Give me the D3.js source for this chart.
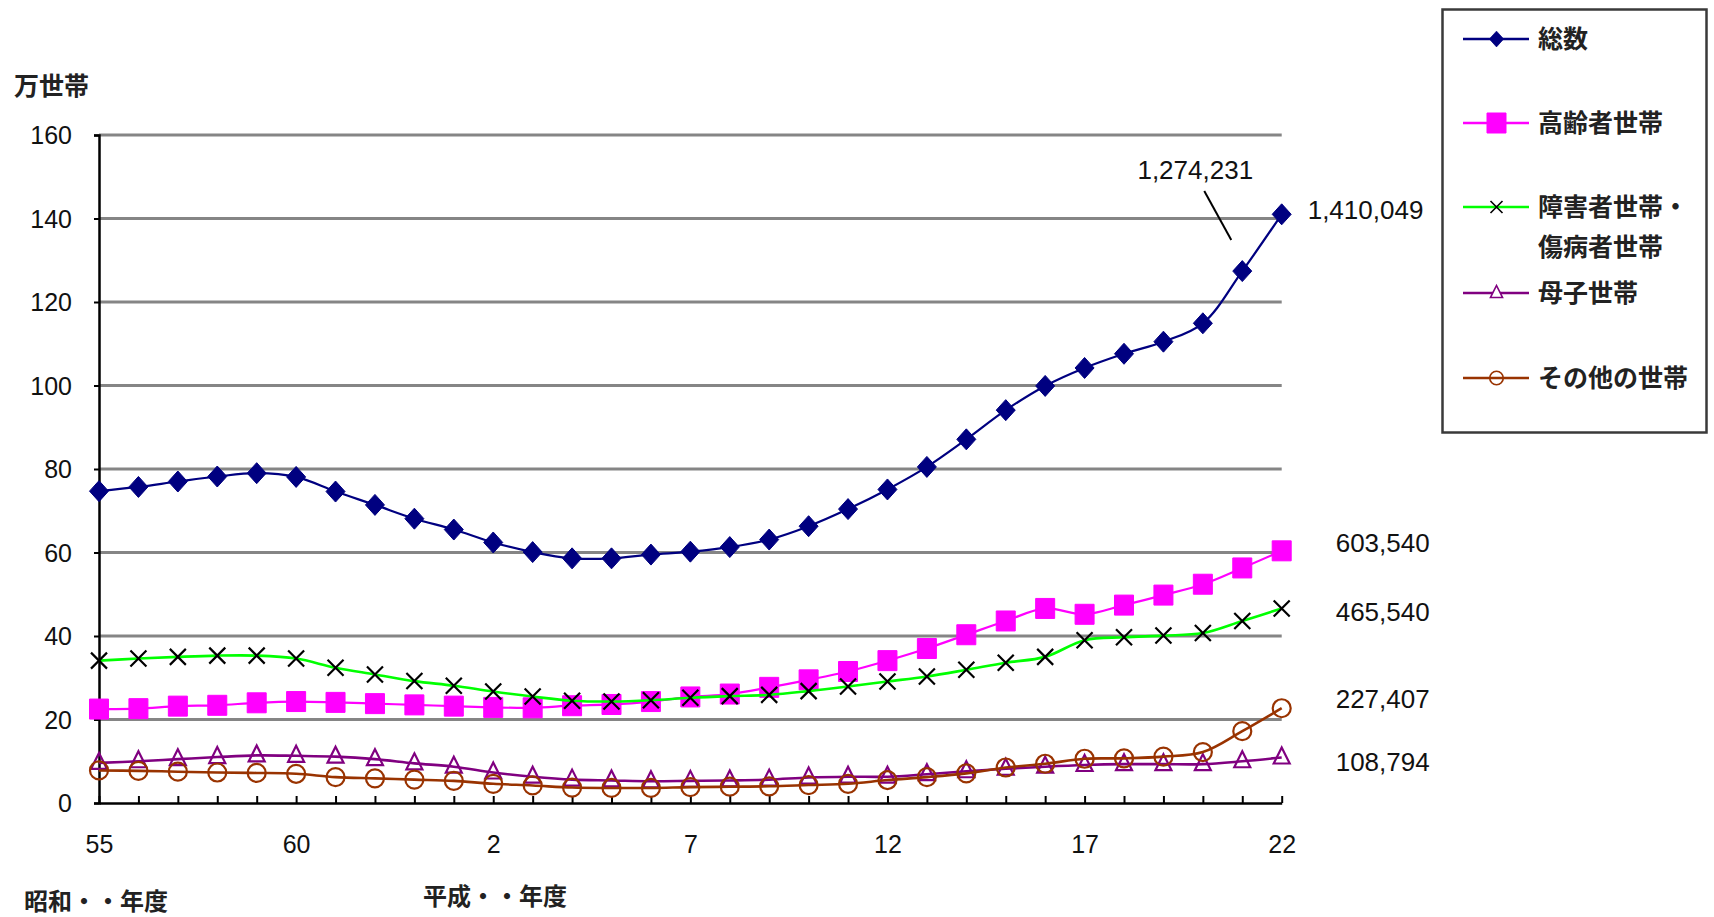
<!DOCTYPE html>
<html>
<head>
<meta charset="utf-8">
<script src="https://cdn.jsdelivr.net/npm/d3@7"></script>
<style>
  html, body { margin: 0; padding: 0; background: #fff; }
  svg { display: block; }
  .num { font-family: "Liberation Sans", Arial, sans-serif; fill: #111; }
  .jp { font-family: "Noto Sans CJK JP", "Noto Sans", sans-serif; font-weight: 700; fill: #222; }
</style>
</head>
<body>
<svg id="chart" width="1714" height="917"></svg>
<script>
// ---- data (万世帯) ----
const categories = ["S55","S56","S57","S58","S59","S60","S61","S62","S63",
  "H1","H2","H3","H4","H5","H6","H7","H8","H9","H10","H11","H12","H13","H14","H15","H16","H17","H18","H19","H20","H21","H22"];
const tickLabels = {"S55":"55","S60":"60","H2":"2","H7":"7","H12":"12","H17":"17","H22":"22"};
const yTicks = [0, 20, 40, 60, 80, 100, 120, 140, 160];

const total    = [74.7,75.7,77.0,78.2,79.0,78.1,74.6,71.4,68.1,65.5,62.4,60.1,58.6,58.6,59.5,60.2,61.3,63.1,66.3,70.4,75.1,80.5,87.1,94.1,99.9,104.2,107.6,110.5,114.9,127.4,141.0];
const elderly  = [22.5,22.6,23.2,23.4,24.0,24.3,24.1,23.8,23.5,23.2,22.9,22.8,23.3,23.6,24.3,25.4,26.1,27.7,29.5,31.5,34.1,37.0,40.3,43.6,46.6,45.2,47.4,49.8,52.4,56.3,60.4];
const disabled = [34.1,34.6,35.0,35.3,35.3,34.6,32.4,30.8,29.2,28.1,26.7,25.5,24.5,24.3,24.6,25.2,25.6,25.9,26.8,27.9,29.1,30.3,31.9,33.6,35.0,39.0,39.7,40.1,40.7,43.6,46.6];
const mother   = [9.6,10.0,10.5,11.0,11.4,11.3,11.1,10.5,9.5,8.7,7.3,6.3,5.6,5.4,5.2,5.3,5.4,5.6,6.1,6.3,6.3,6.9,7.6,8.2,8.7,9.1,9.3,9.3,9.3,10.0,10.9];
const other    = [7.8,7.7,7.5,7.3,7.2,7.0,6.2,5.9,5.6,5.3,4.6,4.2,3.7,3.6,3.6,3.8,3.9,4.0,4.3,4.6,5.5,6.2,7.1,8.5,9.4,10.6,10.7,11.1,12.2,17.2,22.7];

const seriesNames = ["総数","高齢者世帯","障害者世帯・\n傷病者世帯","母子世帯","その他の世帯"];
const endLabels = ["1,410,049","603,540","465,540","","227,407"];
const motherEndLabel = "108,794";
const h21Label = "1,274,231";

// ---- setup ----
const svg = d3.select("#chart");
svg.append("rect").attr("width",1714).attr("height",917).attr("fill","#fff");

const x = d3.scalePoint().domain(categories).range([99, 1281.7]);
const y = d3.scaleLinear().domain([0,160]).range([803,135]);

// gridlines
svg.append("g").selectAll("line").data(yTicks.filter(d => d > 0)).join("line")
  .attr("x1", 99).attr("x2", 1281.7)
  .attr("y1", d => y(d)).attr("y2", d => y(d))
  .attr("stroke", "#858585").attr("stroke-width", 3);

// y axis
const yAxis = svg.append("g").attr("transform","translate(99,0)")
  .call(d3.axisLeft(y).tickValues(yTicks).tickSize(5).tickPadding(22));
yAxis.select(".domain").attr("stroke","#000").attr("stroke-width",2.5);
yAxis.selectAll(".tick line").attr("stroke","#000").attr("stroke-width",2);
yAxis.selectAll(".tick text").attr("class","num").attr("font-size",25).attr("dy","0.34em");

// x axis (ticks pointing inward)
const xAxis = svg.append("g").attr("transform","translate(0,803)")
  .call(d3.axisBottom(x).tickSize(-7).tickSizeOuter(0).tickPadding(32)
    .tickFormat(d => tickLabels[d] || ""));
xAxis.select(".domain").attr("stroke","#000").attr("stroke-width",2.5);
xAxis.selectAll(".tick line").attr("stroke","#000").attr("stroke-width",2);
xAxis.selectAll(".tick text").attr("class","num").attr("font-size",25);

// axis titles
svg.append("text").attr("class","jp").attr("x",14).attr("y",95).attr("font-size",25).text("万世帯");
svg.append("text").attr("class","jp").attr("x",24).attr("y",910).attr("font-size",24).text("昭和・・年度");
svg.append("text").attr("class","jp").attr("x",423).attr("y",905).attr("font-size",24).text("平成・・年度");

// ---- series ----
const series = [
  {name: seriesNames[0], values: total,    line: "#000080", lw: 2.2, marker: "diamond", mfill: "#000080", mstroke: "#000080"},
  {name: seriesNames[1], values: elderly,  line: "#ff00ff", lw: 2.2, marker: "square",  mfill: "#ff00ff", mstroke: "#ff00ff"},
  {name: seriesNames[2], values: disabled, line: "#00ff00", lw: 2.6, marker: "x",       mfill: "none",    mstroke: "#000"},
  {name: seriesNames[3], values: mother,   line: "#800080", lw: 2.6, marker: "triangle",mfill: "#fff",    mstroke: "#800080"},
  {name: seriesNames[4], values: other,    line: "#993300", lw: 2.6, marker: "circle",  mfill: "none",    mstroke: "#993300"}
];

function markerPath(type) {
  switch (type) {
    case "diamond":  return "M0,-10.5L9.5,0L0,10.5L-9.5,0Z";
    case "square":   return "M-9.5,-10L9.5,-10L9.5,10L-9.5,10Z";
    case "x":        return "M-8,-8L8,8M-8,8L8,-8";
    case "triangle": return "M0,-10L8,6L-8,6Z";
    case "circle":   return "M-9,0A9,9 0 1,0 9,0A9,9 0 1,0 -9,0Z";
  }
}

const line = d3.line()
  .x((d,i) => x(categories[i]))
  .y(d => y(d))
  .curve(d3.curveCatmullRom.alpha(0.5));

series.forEach(s => {
  const g = svg.append("g");
  g.append("path").datum(s.values).attr("d", line)
    .attr("fill","none").attr("stroke", s.line).attr("stroke-width", s.lw);
  g.selectAll("path.m").data(s.values).join("path").attr("class","m")
    .attr("transform", (d,i) => `translate(${x(categories[i])},${y(d)})`)
    .attr("d", markerPath(s.marker))
    .attr("fill", s.mfill === "#fff" ? "none" : s.mfill)
    .attr("stroke", s.mstroke)
    .attr("stroke-width", s.marker === "diamond" || s.marker === "square" ? 1 : 2.2);
});

// ---- end labels ----
const last = categories[categories.length - 1];
const lastX = x(last);
svg.append("text").attr("class","num").attr("font-size",26)
  .attr("x", lastX + 26).attr("y", y(total[30]) - 4).attr("dy","0.35em").text(endLabels[0]);
svg.append("text").attr("class","num").attr("font-size",26)
  .attr("x", lastX + 54).attr("y", y(elderly[30]) - 8).attr("dy","0.35em").text(endLabels[1]);
svg.append("text").attr("class","num").attr("font-size",26)
  .attr("x", lastX + 54).attr("y", y(disabled[30]) + 3).attr("dy","0.35em").text(endLabels[2]);
svg.append("text").attr("class","num").attr("font-size",26)
  .attr("x", lastX + 54).attr("y", y(other[30]) - 9).attr("dy","0.35em").text(endLabels[4]);
svg.append("text").attr("class","num").attr("font-size",26)
  .attr("x", lastX + 54).attr("y", y(mother[30]) + 4).attr("dy","0.35em").text(motherEndLabel);

// H21 callout
const h21x = x("H21"), h21y = y(total[29]);
svg.append("line")
  .attr("x1", h21x - 38).attr("y1", h21y - 80)
  .attr("x2", h21x - 11).attr("y2", h21y - 31)
  .attr("stroke","#000").attr("stroke-width",2);
svg.append("text").attr("class","num").attr("font-size",26).attr("text-anchor","middle")
  .attr("x", h21x - 47).attr("y", h21y - 101).attr("dy","0.35em").text(h21Label);

// ---- legend ----
const lg = svg.append("g");
lg.append("rect").attr("x",1442.5).attr("y",9.5).attr("width",264).attr("height",423)
  .attr("fill","#fff").attr("stroke","#3a3a3a").attr("stroke-width",2.5);
const legendY = [39, 123, 207, 293, 378];
series.forEach((s, i) => {
  const ly = legendY[i];
  lg.append("line").attr("x1",1463).attr("x2",1529).attr("y1",ly).attr("y2",ly)
    .attr("stroke", s.line).attr("stroke-width", 2.6);
  lg.append("path").attr("transform",`translate(1496.5,${ly})`)
    .attr("d", markerPath(s.marker))
    .attr("fill", s.mfill === "#fff" ? "#fff" : s.mfill)
    .attr("stroke", s.mstroke)
    .attr("stroke-width", s.marker === "diamond" || s.marker === "square" ? 1 : 2.2)
    .attr("transform", `translate(1496.5,${ly}) scale(${s.marker === "square" ? 1 : 0.75})`);
  const lines = s.name.split("\n");
  lines.forEach((t, j) => {
    lg.append("text").attr("class","jp").attr("font-size",25)
      .attr("x",1538).attr("y", ly + j*39.5).attr("dy","0.36em").text(t);
  });
});
</script>
</body>
</html>
